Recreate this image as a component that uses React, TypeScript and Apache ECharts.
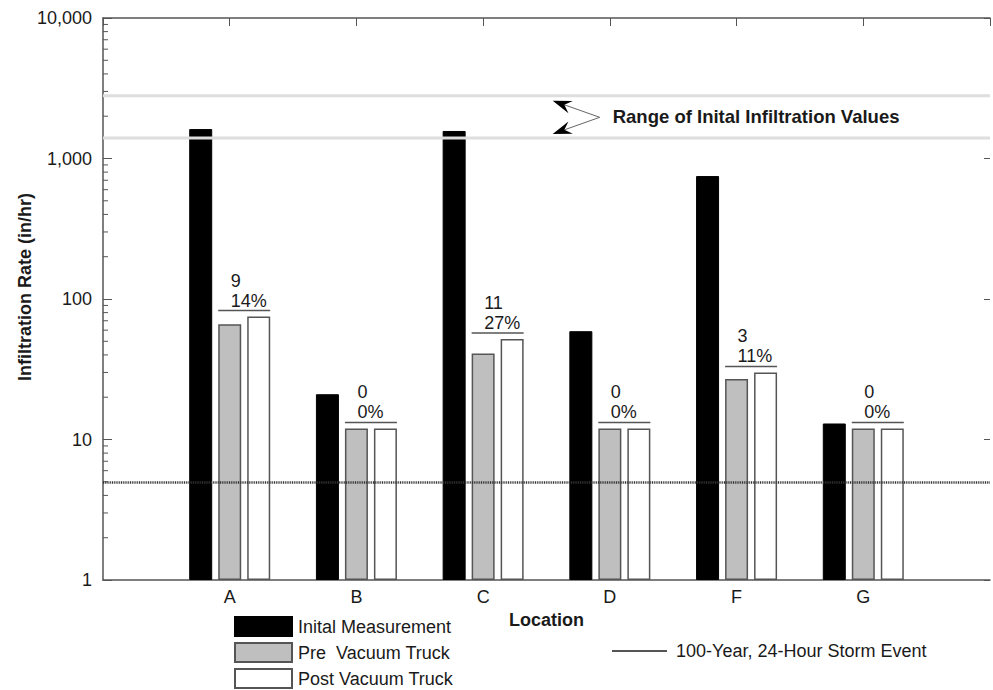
import React, { useEffect, useRef } from 'react';
import * as echarts from 'echarts';

const LOCATIONS = ['A', 'B', 'C', 'D', 'F', 'G'];
const INITIAL = [1620, 21, 1570, 59, 750, 13];
const PRE = [66, 12, 41, 12, 27, 12];
const POST = [75, 12, 52, 12, 30, 12];
const DIFF_LABELS = ['9', '0', '11', '0', '3', '0'];
const PCT_LABELS = ['14%', '0%', '27%', '0%', '11%', '0%'];
const RANGE_LOW = 1400;
const RANGE_HIGH = 2800;
const STORM_EVENT = 5;
const DECADES = [1, 10, 100, 1000];
const MINOR_STEPS = [2, 3, 4, 5, 6, 7, 8, 9];

const NAME_INITIAL = 'Inital Measurement';
const NAME_PRE = 'Pre  Vacuum Truck';
const NAME_POST = 'Post Vacuum Truck';
const NAME_STORM = '100-Year, 24-Hour Storm Event';

const FONT = '"Liberation Sans", Arial, sans-serif';
const AXIS_COLOR = '#555';
const TEXT_COLOR = '#1a1a1a';

const BAR_W = 23;
const BAR_GAP_PX = 6;

const legendText = (pad: number) => ({
  fontSize: 18,
  color: TEXT_COLOR,
  fontFamily: FONT,
  padding: [0, 0, 0, pad],
});

export default function App() {
  const ref = useRef<HTMLDivElement>(null);

  useEffect(() => {
    if (!ref.current) return;
    const chart = echarts.init(ref.current, null, { renderer: 'svg' });

    const axisData = ['', ...LOCATIONS, ''];
    const minorTicks = DECADES.flatMap((d) => MINOR_STEPS.map((s) => [0, s * d]));

    const barLegend = (name: string, top: number) => ({
      data: [{ name, icon: 'rect' }],
      left: 234,
      top,
      padding: 0,
      itemWidth: 57,
      itemHeight: 19,
      selectedMode: false,
      textStyle: legendText(1),
    });

    const option: any = {
      animation: false,
      backgroundColor: '#fff',
      textStyle: { fontFamily: FONT },
      grid: { left: 103, right: 2, top: 18, bottom: 110, containLabel: false },
      legend: [
        barLegend(NAME_INITIAL, 616),
        barLegend(NAME_PRE, 642),
        barLegend(NAME_POST, 668),
        {
          data: [{ name: NAME_STORM, icon: 'rect' }],
          left: 612,
          top: 642,
          padding: 0,
          itemWidth: 55,
          itemHeight: 2,
          selectedMode: false,
          textStyle: legendText(4),
        },
      ],
      xAxis: [
        {
          type: 'category',
          data: axisData,
          boundaryGap: false,
          position: 'bottom',
          axisLine: { show: true, lineStyle: { color: AXIS_COLOR, width: 1.5 } },
          axisTick: { show: false },
          axisLabel: { fontSize: 18, color: TEXT_COLOR, margin: 8, fontFamily: FONT },
          name: 'Location',
          nameLocation: 'middle',
          nameGap: 31,
          nameTextStyle: { fontSize: 18, fontWeight: 'bold', color: TEXT_COLOR, fontFamily: FONT },
          splitLine: { show: false },
        },
        {
          type: 'category',
          data: axisData,
          boundaryGap: false,
          position: 'top',
          axisLine: { show: true, lineStyle: { color: AXIS_COLOR, width: 1.5 } },
          axisTick: { show: true, inside: true, length: 8, lineStyle: { color: AXIS_COLOR } },
          axisLabel: { show: false },
          splitLine: { show: false },
        },
      ],
      yAxis: [
        {
          type: 'log',
          logBase: 10,
          min: 1,
          max: 10000,
          position: 'left',
          axisLine: { show: true, lineStyle: { color: AXIS_COLOR, width: 1.5 } },
          axisTick: { show: true, inside: true, length: 9, lineStyle: { color: AXIS_COLOR } },
          axisLabel: {
            fontSize: 18,
            color: TEXT_COLOR,
            margin: 11,
            fontFamily: FONT,
            formatter: (v: number) => Number(v).toLocaleString('en-US'),
          },
          splitLine: { show: false },
        },
        {
          type: 'log',
          logBase: 10,
          min: 1,
          max: 10000,
          position: 'right',
          axisLine: { show: false },
          axisTick: { show: true, inside: true, length: 6, lineStyle: { color: AXIS_COLOR } },
          axisLabel: { show: false },
          splitLine: { show: false },
        },
      ],
      series: [
        {
          name: NAME_INITIAL,
          type: 'bar',
          barWidth: BAR_W,
          barGap: `${(BAR_GAP_PX / BAR_W) * 100}%`,
          data: INITIAL.map((v, i) => [i + 1, v]),
          itemStyle: { color: '#000', borderColor: '#000', borderWidth: 1 },
        },
        {
          name: NAME_PRE,
          type: 'bar',
          barWidth: BAR_W,
          barGap: `${(BAR_GAP_PX / BAR_W) * 100}%`,
          data: PRE.map((v, i) => [i + 1, v]),
          itemStyle: { color: '#bfbfbf', borderColor: '#555', borderWidth: 1.5 },
        },
        {
          name: NAME_POST,
          type: 'bar',
          barWidth: BAR_W,
          barGap: `${(BAR_GAP_PX / BAR_W) * 100}%`,
          data: POST.map((v, i) => [i + 1, v]),
          itemStyle: { color: '#fff', borderColor: '#555', borderWidth: 1.5 },
        },
        {
          name: NAME_STORM,
          type: 'line',
          data: [],
          color: '#555',
          symbol: 'none',
          lineStyle: { color: '#555', width: 2 },
          itemStyle: { color: '#555' },
          markLine: {
            silent: true,
            symbol: 'none',
            label: { show: false },
            data: [{ yAxis: STORM_EVENT }],
            lineStyle: { color: '#333', width: 2.5, type: [1, 0.8] },
          },
        },
        {
          // change annotations above pre/post bars
          type: 'custom',
          z: 6,
          silent: true,
          clip: false,
          encode: { x: 0, y: 1 },
          data: POST.map((v, i) => [i + 1, v, i]),
          renderItem: (params: any, api: any) => {
            const idx = api.value(2);
            const pt = api.coord([api.value(0), api.value(1)]);
            const cx = pt[0];
            const lineY = pt[1] - 6;
            const step = BAR_W + BAR_GAP_PX;
            return {
              type: 'group',
              children: [
                {
                  type: 'line',
                  shape: { x1: cx - BAR_W / 2, y1: lineY, x2: cx + step + BAR_W / 2, y2: lineY },
                  style: { stroke: '#555', lineWidth: 1.5 },
                },
                {
                  type: 'text',
                  x: cx + 1,
                  y: lineY - 10,
                  style: {
                    text: PCT_LABELS[idx],
                    fill: TEXT_COLOR,
                    font: `18px ${FONT}`,
                    align: 'left',
                    verticalAlign: 'middle',
                  },
                },
                {
                  type: 'text',
                  x: cx + 1,
                  y: lineY - 30,
                  style: {
                    text: DIFF_LABELS[idx],
                    fill: TEXT_COLOR,
                    font: `18px ${FONT}`,
                    align: 'left',
                    verticalAlign: 'middle',
                  },
                },
              ],
            };
          },
        },
        {
          // range of initial infiltration values
          type: 'custom',
          z: 5,
          silent: true,
          clip: false,
          encode: { x: 0, y: [1, 2] },
          data: [[0, RANGE_LOW, RANGE_HIGH]],
          renderItem: (params: any, api: any) => {
            const cs = params.coordSys;
            const yLow = api.coord([0, api.value(1)])[1];
            const yHigh = api.coord([0, api.value(2)])[1];
            const x0 = cs.x;
            const x1 = cs.x + cs.width;
            const xTip = cs.x + 0.507 * cs.width;
            const tipU = [xTip, yHigh + 5];
            const tipL = [xTip, yLow - 4];
            const vtx = [xTip + 47, (tipU[1] + tipL[1]) / 2];
            const head = (tip: number[]) => {
              const dx = tip[0] - vtx[0];
              const dy = tip[1] - vtx[1];
              const len = Math.sqrt(dx * dx + dy * dy);
              const ux = dx / len;
              const uy = dy / len;
              const L = 19;
              const W = 6.5;
              const bx = tip[0] - ux * L;
              const by = tip[1] - uy * L;
              return {
                poly: [
                  [tip[0], tip[1]],
                  [bx - uy * W, by + ux * W],
                  [tip[0] - ux * L * 0.65, tip[1] - uy * L * 0.65],
                  [bx + uy * W, by - ux * W],
                ],
                base: [tip[0] - ux * L * 0.65, tip[1] - uy * L * 0.65],
              };
            };
            const hu = head(tipU);
            const hl = head(tipL);
            return {
              type: 'group',
              children: [
                {
                  type: 'line',
                  shape: { x1: x0, y1: yHigh, x2: x1, y2: yHigh },
                  style: { stroke: '#dedede', lineWidth: 3 },
                },
                {
                  type: 'line',
                  shape: { x1: x0, y1: yLow, x2: x1, y2: yLow },
                  style: { stroke: '#dedede', lineWidth: 3 },
                },
                {
                  type: 'polyline',
                  shape: { points: [hu.base, vtx, hl.base] },
                  style: { stroke: '#666', lineWidth: 1, fill: null },
                },
                { type: 'polygon', shape: { points: hu.poly }, style: { fill: '#000' } },
                { type: 'polygon', shape: { points: hl.poly }, style: { fill: '#000' } },
                {
                  type: 'text',
                  x: vtx[0] + 13,
                  y: vtx[1] - 1,
                  style: {
                    text: 'Range of Inital Infiltration Values',
                    fill: TEXT_COLOR,
                    font: `bold 18.5px ${FONT}`,
                    align: 'left',
                    verticalAlign: 'middle',
                  },
                },
              ],
            };
          },
        },
        {
          // minor ticks on the log axis
          type: 'custom',
          z: 4,
          silent: true,
          clip: false,
          encode: { x: 0, y: 1 },
          data: minorTicks,
          renderItem: (params: any, api: any) => {
            const cs = params.coordSys;
            const y = api.coord([0, api.value(1)])[1];
            return {
              type: 'line',
              shape: { x1: cs.x, y1: y, x2: cs.x + 5, y2: y },
              style: { stroke: AXIS_COLOR, lineWidth: 1 },
            };
          },
        },
      ],
      graphic: [
        {
          type: 'text',
          x: 25,
          y: 287,
          rotation: Math.PI / 2,
          style: {
            text: 'Infiltration Rate (in/hr)',
            fill: TEXT_COLOR,
            font: `bold 18px ${FONT}`,
            align: 'center',
            verticalAlign: 'middle',
          },
        },
      ],
    };

    chart.setOption(option);
    return () => chart.dispose();
  }, []);

  return (
    <div
      ref={ref}
      style={{ position: 'fixed', left: 0, top: 0, width: 993, height: 690, background: '#fff' }}
    />
  );
}
